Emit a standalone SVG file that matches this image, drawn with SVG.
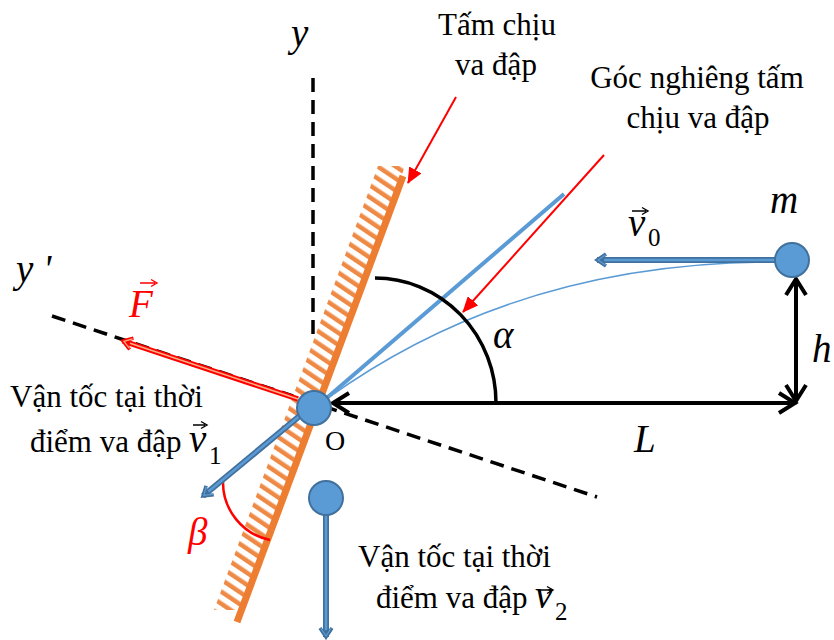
<svg xmlns="http://www.w3.org/2000/svg" width="834" height="640" viewBox="0 0 834 640">
<style>
.lbl{font-family:"Liberation Serif","Times New Roman",serif;font-size:31px;fill:#000}
.sub{font-family:"Liberation Serif","Times New Roman",serif;font-size:25px;fill:#000}
.mi{font-family:"Liberation Serif","Times New Roman",serif;font-style:italic;font-size:39px;fill:#000}
.red{fill:#FF0000}
.dash{stroke:#000;stroke-width:3.5;stroke-dasharray:14 8;fill:none}
.ball{fill:#5B9BD5;stroke:#41719C;stroke-width:2}
.bo{stroke:#41719C;stroke-width:6;fill:none}
.bi{stroke:#5B9BD5;stroke-width:2.5;fill:none}
.blk{stroke:#000;stroke-width:4;fill:none}
.call{stroke:#FF0000;stroke-width:2;fill:none;marker-end:url(#rtri)}
.varr{fill:none;stroke:#000;stroke-width:1.4}
</style>
<defs>
<pattern id="hatch" patternUnits="userSpaceOnUse" width="10" height="10" patternTransform="rotate(-56)">
<rect width="10" height="10" fill="#fff"/>
<rect x="1" width="4.5" height="10" fill="#EE8A45"/>
</pattern>
<marker id="chev" markerUnits="userSpaceOnUse" viewBox="0 0 24 24" markerWidth="24" markerHeight="24" refX="20" refY="12" orient="auto-start-reverse">
<path d="M4,2 L20,12 L4,22" fill="none" stroke="#000" stroke-width="4"/>
</marker>
<marker id="rtri" markerUnits="userSpaceOnUse" viewBox="0 0 16 14" markerWidth="16" markerHeight="14" refX="15" refY="7" orient="auto">
<path d="M0,0 L16,7 L0,14 z" fill="#FF0000"/>
</marker>
<marker id="bchev" markerUnits="userSpaceOnUse" viewBox="0 0 16 16" markerWidth="16" markerHeight="16" refX="13" refY="8" orient="auto">
<path d="M4,2 L13,8 L4,14" fill="none" stroke="#41719C" stroke-width="3.5"/>
<path d="M4.5,3 L12,8 L4.5,13" fill="none" stroke="#5B9BD5" stroke-width="1.2"/>
</marker>
<marker id="rchev" markerUnits="userSpaceOnUse" viewBox="0 0 16 16" markerWidth="16" markerHeight="16" refX="13" refY="8" orient="auto">
<path d="M4,2 L13,8 L4,14" fill="none" stroke="#FF0000" stroke-width="3.5"/>
<path d="M4.5,3 L12,8 L4.5,13" fill="none" stroke="#F4B183" stroke-width="1.2"/>
</marker>
</defs>

<g id="axes">
<line class="dash" x1="313" y1="78" x2="313" y2="336"/>
<line class="dash" x1="52" y1="316" x2="597" y2="497"/>
</g>

<g id="plate">
<polygon points="378,166 405,166 241,610 214,610" fill="url(#hatch)"/>
<line x1="403" y1="176" x2="237" y2="622" stroke="#ED7D31" stroke-width="7"/>
</g>

<g id="connectors">
<line x1="322" y1="402" x2="564" y2="194" stroke="#5B9BD5" stroke-width="4"/>
<path d="M775,262 Q517,262 328,398" fill="none" stroke="#5B9BD5" stroke-width="1.5"/>
<path d="M375,278 A121,125 0 0 1 496,403" fill="none" stroke="#000" stroke-width="3.5"/>
<path d="M223,482 A59,59 0 0 0 270,540" fill="none" stroke="#FF0000" stroke-width="2.5"/>
<line class="blk" x1="333" y1="403" x2="795" y2="403" marker-start="url(#chev)" marker-end="url(#chev)"/>
<line class="blk" x1="796" y1="279" x2="796" y2="401" marker-start="url(#chev)" marker-end="url(#chev)"/>
<line class="call" x1="456" y1="97" x2="408" y2="183"/>
<line class="call" x1="604" y1="155" x2="463" y2="312"/>
<line x1="298" y1="399" x2="123" y2="341" stroke="#FF0000" stroke-width="5.5" marker-end="url(#rchev)"/>
<line x1="298" y1="399" x2="130" y2="343.3" stroke="#F4B183" stroke-width="1.5"/>
<line class="bo" x1="775" y1="260" x2="597" y2="260" marker-end="url(#bchev)"/>
<line class="bi" x1="775" y1="260" x2="604" y2="260"/>
<line class="bo" x1="302" y1="414" x2="203" y2="496" marker-end="url(#bchev)"/>
<line class="bi" x1="302" y1="414" x2="208.4" y2="491.5"/>
<line class="bo" x1="326" y1="515" x2="326" y2="637" marker-end="url(#bchev)"/>
<line class="bi" x1="326" y1="515" x2="326" y2="630"/>
</g>

<g id="ball-O"><circle class="ball" cx="314" cy="408" r="17"/></g>
<g id="ball-m"><circle class="ball" cx="792" cy="260" r="17"/></g>
<g id="ball-2"><circle class="ball" cx="326" cy="498" r="17"/></g>

<g id="labels">
<text class="mi" x="291" y="46">y</text>
<text class="mi" x="16" y="282">y '</text>
<text class="lbl" x="497" y="35" text-anchor="middle">Tấm chịu</text>
<text class="lbl" x="496" y="75" text-anchor="middle">va đập</text>
<text class="lbl" x="697" y="88" text-anchor="middle">Góc nghiêng tấm</text>
<text class="lbl" x="698" y="128" text-anchor="middle">chịu va đập</text>
<text class="mi" x="770" y="213">m</text>
<text class="mi" x="628" y="236">v</text>
<text class="sub" x="648" y="246">0</text>
<path class="varr" d="M632,211 H646 M642,207.5 L648,211 L642,214.5"/>
<text class="mi" x="812" y="362">h</text>
<text class="mi" x="634" y="452">L</text>
<text class="lbl" x="325" y="450" style="font-size:28px">O</text>
<text class="mi" x="493" y="348">α</text>
<text class="mi red" x="188" y="545">β</text>
<text class="mi red" x="129" y="317">F</text>
<path d="M140,283 H155 M151,279.5 L157,283 L151,286.5" fill="none" stroke="#FF0000" stroke-width="1.4"/>
<text class="lbl" x="10" y="407">Vận tốc tại thời</text>
<text class="lbl" x="30" y="452">điểm va đập</text>
<text class="mi" x="189" y="452">v</text>
<text class="sub" x="209" y="464">1</text>
<path class="varr" d="M193,425 H205 M201,421.5 L207,425 L201,428.5"/>
<text class="lbl" x="358" y="567">Vận tốc tại thời</text>
<text class="lbl" x="376" y="608">điểm va đập</text>
<text class="mi" x="535" y="608">v</text>
<text class="sub" x="555" y="620">2</text>
<path class="varr" d="M538,590 H551 M547,586.5 L553,590 L547,593.5"/>
</g>
</svg>
